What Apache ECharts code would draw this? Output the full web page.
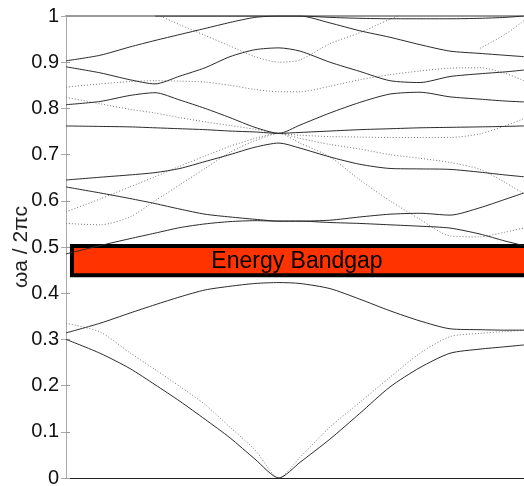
<!DOCTYPE html>
<html>
<head>
<meta charset="utf-8">
<script src="https://cdn.jsdelivr.net/npm/echarts@6/dist/echarts.min.js"></script>
<style>
html,body{margin:0;padding:0;background:#fff;}
#chart{width:524px;height:486px;}
</style>
</head>
<body>
<div id="chart"></div>
<script>
// wave-vector positions along the path (left edge = 0, Gamma = 1)
var kPoints = [0, 0.160, 0.300, 0.418, 0.535, 0.653, 0.770, 0.887, 1.000, 1.099, 1.239, 1.380, 1.521, 1.662, 1.803, 1.944, 2.061, 2.150];
var yTicks = [0, 0.1, 0.2, 0.3, 0.4, 0.5, 0.6, 0.7, 0.8, 0.9, 1];
var yName = 'ωa / 2πc';
var gapLabel = 'Energy Bandgap';
var gapRange = [0.439, 0.502];
var gapK = [0.028, 2.18];

// solid bands (normalized frequency)
var bandS1 = [0.300,0.270,0.237,0.202,0.166,0.127,0.087,0.041,0.000,0.034,0.084,0.140,0.197,0.239,0.270,0.279,0.284,0.288];
var bandS3 = [0.314,0.335,0.357,0.375,0.392,0.407,0.415,0.421,0.423,0.421,0.410,0.387,0.362,0.340,0.323,0.321,0.320,0.320];
var bandG  = [0.485,0.503,0.518,0.530,0.542,0.550,0.555,0.557,0.556,0.556,0.553,0.551,0.548,0.545,0.541,0.528,0.513,0.503];
var bandF  = [0.630,0.617,0.605,0.594,0.582,0.571,0.565,0.560,0.556,0.556,0.558,0.565,0.571,0.573,0.569,0.585,0.603,0.617];
var bandE  = [0.645,0.651,0.656,0.661,0.670,0.685,0.700,0.716,0.725,0.714,0.695,0.679,0.670,0.669,0.668,0.662,0.656,0.652];
var bandD  = [0.762,0.761,0.760,0.758,0.756,0.754,0.751,0.749,0.746,0.748,0.751,0.754,0.756,0.758,0.759,0.760,0.761,0.762];
var bandC  = [0.808,0.815,0.828,0.834,0.818,0.800,0.780,0.759,0.746,0.764,0.790,0.813,0.831,0.835,0.825,0.820,0.816,0.814];
var bandB  = [0.890,0.877,0.862,0.853,0.870,0.888,0.912,0.927,0.931,0.924,0.900,0.880,0.860,0.856,0.869,0.875,0.879,0.883];
var bandA  = [0.903,0.915,0.933,0.947,0.960,0.973,0.986,0.997,1.000,1.000,0.985,0.968,0.954,0.938,0.924,0.919,0.915,0.912];
var bandT  = [null,null,null,1.000,1.000,1.000,1.000,1.000,1.000,1.000,0.997,0.995,0.994,0.994,0.994,0.995,0.997,1.000];

// dotted bands
var dotD2 = [0.335,0.316,0.271,0.235,0.198,0.159,0.110,0.061,0.000,0.045,0.110,0.164,0.218,0.270,0.306,0.313,0.317,0.320];
var dotP1 = [0.576,0.604,0.630,0.652,0.675,0.697,0.718,0.735,0.746,0.735,0.722,0.712,0.700,0.692,0.683,0.668,0.640,0.615];
var dotP2 = [0.551,0.548,0.565,0.600,0.635,0.670,0.705,0.730,0.746,0.725,0.695,0.645,0.600,0.560,0.524,0.522,0.532,0.541];
var dotK  = [0.824,0.810,0.798,0.790,0.780,0.771,0.763,0.755,0.746,0.742,0.739,0.738,0.737,0.737,0.737,0.745,0.762,0.778];
var dotL  = [0.846,0.853,0.858,0.860,0.859,0.857,0.850,0.841,0.836,0.836,0.848,0.862,0.873,0.881,0.887,0.888,0.876,0.860];
var dotJ  = [null,null,null,1.005,0.981,0.958,0.935,0.912,0.900,0.905,0.940,0.964,0.993,1.020,null,null,null,null];
var dotN  = [null,null,null,null,null,null,null,null,null,null,null,null,null,null,null,0.930,0.960,0.990];

var solidBands = [bandS1, bandS3, bandG, bandF, bandE, bandD, bandC, bandB, bandA, bandT];
var dottedBands = [dotD2, dotP1, dotP2, dotK, dotL, dotJ, dotN];

function toPairs(vals){
  var out = [];
  for (var i = 0; i < kPoints.length; i++) out.push([kPoints[i], vals[i]]);
  return out;
}

var FONT = 'Liberation Sans, Arial, sans-serif';
var series = [];
solidBands.forEach(function(b){
  series.push({type:'line', data: toPairs(b), showSymbol:false, smooth:0.25, clip:true, z:3,
    lineStyle:{color:'#2a2a2a', width:1}, silent:true, animation:false});
});
dottedBands.forEach(function(b){
  series.push({type:'line', data: toPairs(b), showSymbol:false, smooth:0.25, clip:true, z:2,
    lineStyle:{color:'#777', width:1, type:[1,2]}, silent:true, animation:false});
});
series.push({type:'line', data: [], z:10, clip:true, animation:false, silent:true,
  markArea:{silent:true,
    itemStyle:{color:'#ff3300', borderColor:'#000', borderWidth:4},
    label:{show:true, position:'inside', offset:[-2,1], color:'#000', fontSize:23,
      fontFamily:FONT, formatter: gapLabel},
    data:[[{xAxis:gapK[0], yAxis:gapRange[0]},{xAxis:gapK[1], yAxis:gapRange[1]}]]
  }
});

var chart = echarts.init(document.getElementById('chart'), null, {renderer:'canvas'});
chart.setOption({
  animation:false,
  backgroundColor:'#fff',
  grid:{left:66, right:-2, top:16, bottom:8, containLabel:false, outerBoundsMode:'none'},
  xAxis:[
    {type:'value', min:0, max:2.16, position:'bottom',
      axisLine:{show:true, onZero:false, lineStyle:{color:'#222', width:1}},
      axisTick:{show:false}, axisLabel:{show:false}, splitLine:{show:false}},
    {type:'value', min:0, max:2.16, position:'top',
      axisLine:{show:true, onZero:false, lineStyle:{color:'#9a9a9a', width:2}},
      axisTick:{show:false}, axisLabel:{show:false}, splitLine:{show:false}}
  ],
  yAxis:[
    {type:'value', min:yTicks[0], max:yTicks[yTicks.length-1], interval:0.1, position:'left',
      name: yName, nameLocation:'middle', nameRotate:90, nameGap:34, nameMoveOverlap:false,
      nameTextStyle:{fontSize:21, color:'#222', fontFamily:FONT},
      axisLine:{show:true, lineStyle:{color:'#aaa', width:1}},
      axisTick:{show:true, inside:true, length:4, lineStyle:{color:'#999'}},
      axisLabel:{show:true, margin:7, fontSize:20, color:'#111', fontFamily:FONT},
      splitLine:{show:false}},
    {type:'value', min:0, max:1, interval:0.1, position:'right',
      axisLine:{show:true, lineStyle:{color:'#aaa', width:1}},
      axisTick:{show:true, inside:true, length:5, lineStyle:{color:'#aaa'}},
      axisLabel:{show:false}, splitLine:{show:false}}
  ],
  series: series
});
</script>
</body>
</html>
